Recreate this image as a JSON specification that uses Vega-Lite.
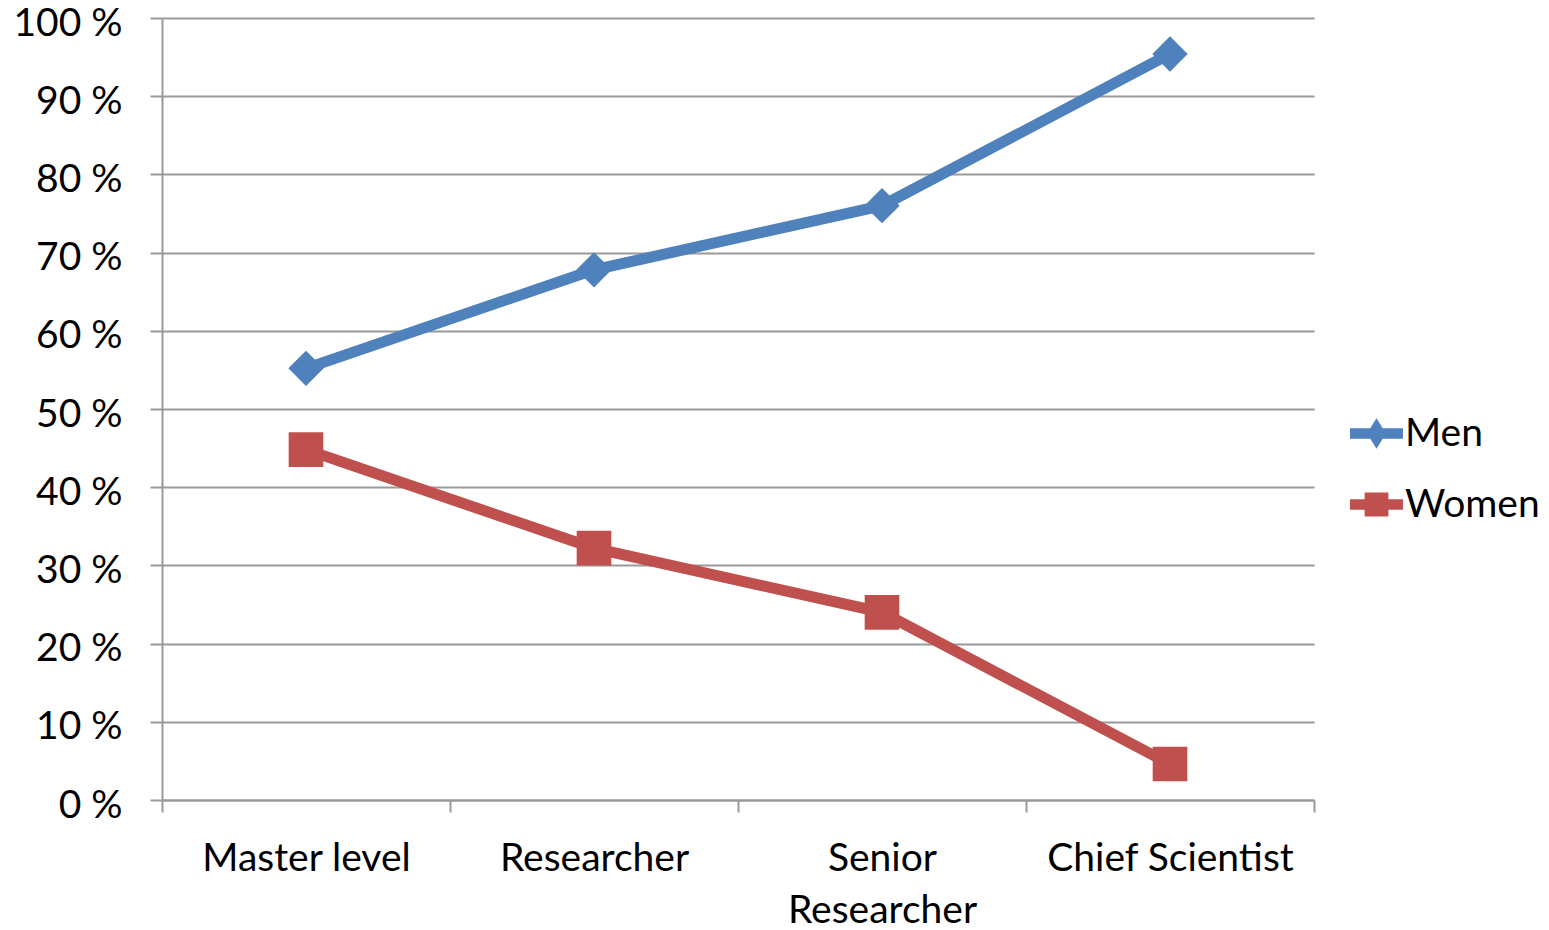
{
  "$schema": "https://vega.github.io/schema/vega-lite/v6.json",
  "autosize": "none",
  "width": 1152,
  "height": 782,
  "padding": {"left": 162, "top": 18, "right": 235, "bottom": 130},
  "background": "white",
  "config": {
    "font": "Lato",
    "view": {"stroke": null},
    "axis": {"labelFont": "Lato", "labelFontSize": 39, "labelColor": "#000000", "labelLimit": 400}
  },
  "data": {
    "values": [
      {"Level": "Master level", "Series": "Men", "Value": 55.2},
      {"Level": "Researcher", "Series": "Men", "Value": 67.8},
      {"Level": "Senior Researcher", "Series": "Men", "Value": 76.0},
      {"Level": "Chief Scientist", "Series": "Men", "Value": 95.4},
      {"Level": "Master level", "Series": "Women", "Value": 44.8},
      {"Level": "Researcher", "Series": "Women", "Value": 32.2},
      {"Level": "Senior Researcher", "Series": "Women", "Value": 24.0},
      {"Level": "Chief Scientist", "Series": "Women", "Value": 4.6}
    ]
  },
  "encoding": {
    "x": {
      "field": "Level",
      "type": "nominal",
      "sort": ["Master level", "Researcher", "Senior Researcher", "Chief Scientist"],
      "scale": {"type": "band", "paddingInner": 0, "paddingOuter": 0},
      "axis": {
        "title": null,
        "labelAngle": 0,
        "domainColor": "#999999",
        "domainWidth": 2,
        "tickColor": "#999999",
        "tickWidth": 2,
        "tickSize": 12,
        "tickBand": "extent",
        "labelPadding": 27,
        "labelBaseline": "top",
        "labelLineHeight": 52,
        "labelExpr": "datum.label == 'Senior Researcher' ? ['Senior', 'Researcher'] : datum.label",
        "grid": false
      }
    },
    "y": {
      "field": "Value",
      "type": "quantitative",
      "scale": {"domain": [0, 100], "nice": false},
      "axis": {
        "title": null,
        "values": [0, 10, 20, 30, 40, 50, 60, 70, 80, 90, 100],
        "labelExpr": "datum.value + ' %'",
        "domainColor": "#999999",
        "domainWidth": 2,
        "tickColor": "#999999",
        "tickWidth": 2,
        "tickSize": 12,
        "labelPadding": 28,
        "labelOffset": 5,
        "grid": true,
        "gridColor": "#999999",
        "gridWidth": 2
      }
    }
  },
  "layer": [
    {
      "transform": [{"filter": "datum.Series == 'Men'"}],
      "mark": {"type": "line", "strokeWidth": 11, "color": "#4F81BD"},
      "encoding": {}
    },
    {
      "transform": [{"filter": "datum.Series == 'Women'"}],
      "mark": {"type": "line", "strokeWidth": 11, "color": "#C0504D"},
      "encoding": {}
    },
    {
      "transform": [{"filter": "datum.Series == 'Men'"}],
      "mark": {"type": "point", "shape": "diamond", "filled": true, "size": 1250, "opacity": 1, "color": "#4F81BD"},
      "encoding": {}
    },
    {
      "transform": [{"filter": "datum.Series == 'Women'"}],
      "mark": {"type": "point", "shape": "square", "filled": true, "size": 1200, "opacity": 1, "color": "#C0504D"},
      "encoding": {}
    },
    {
      "mark": {"type": "point", "filled": true, "size": 0},
      "encoding": {
        "color": {
          "field": "Series",
          "type": "nominal",
          "scale": {"domain": ["Men", "Women"], "range": ["#4F81BD", "#C0504D"]},
          "legend": {
            "title": null,
            "orient": "none",
            "legendX": 1188,
            "legendY": 389,
            "symbolSize": 2800,
            "symbolOpacity": 1,
            "symbolStrokeWidth": 0,
            "labelFontSize": 39,
            "labelFont": "Lato",
            "labelColor": "#000000",
            "labelOffset": 2,
            "rowPadding": 24,
            "labelLimit": 300
          }
        },
        "shape": {
          "field": "Series",
          "type": "nominal",
          "scale": {
            "domain": ["Men", "Women"],
            "range": [
              "M-1,-0.2L1,-0.2L1,0.2L-1,0.2Z M0,-0.58L0.36,0L0,0.58L-0.36,0Z",
              "M-1,-0.2L1,-0.2L1,0.2L-1,0.2Z M-0.45,-0.45L0.45,-0.45L0.45,0.45L-0.45,0.45Z"
            ]
          },
          "legend": {
            "title": null,
            "orient": "none",
            "legendX": 1188,
            "legendY": 389,
            "symbolSize": 2800,
            "symbolOpacity": 1,
            "symbolStrokeWidth": 0,
            "labelFontSize": 39,
            "labelFont": "Lato",
            "labelColor": "#000000",
            "labelOffset": 2,
            "rowPadding": 24,
            "labelLimit": 300
          }
        }
      }
    }
  ]
}
